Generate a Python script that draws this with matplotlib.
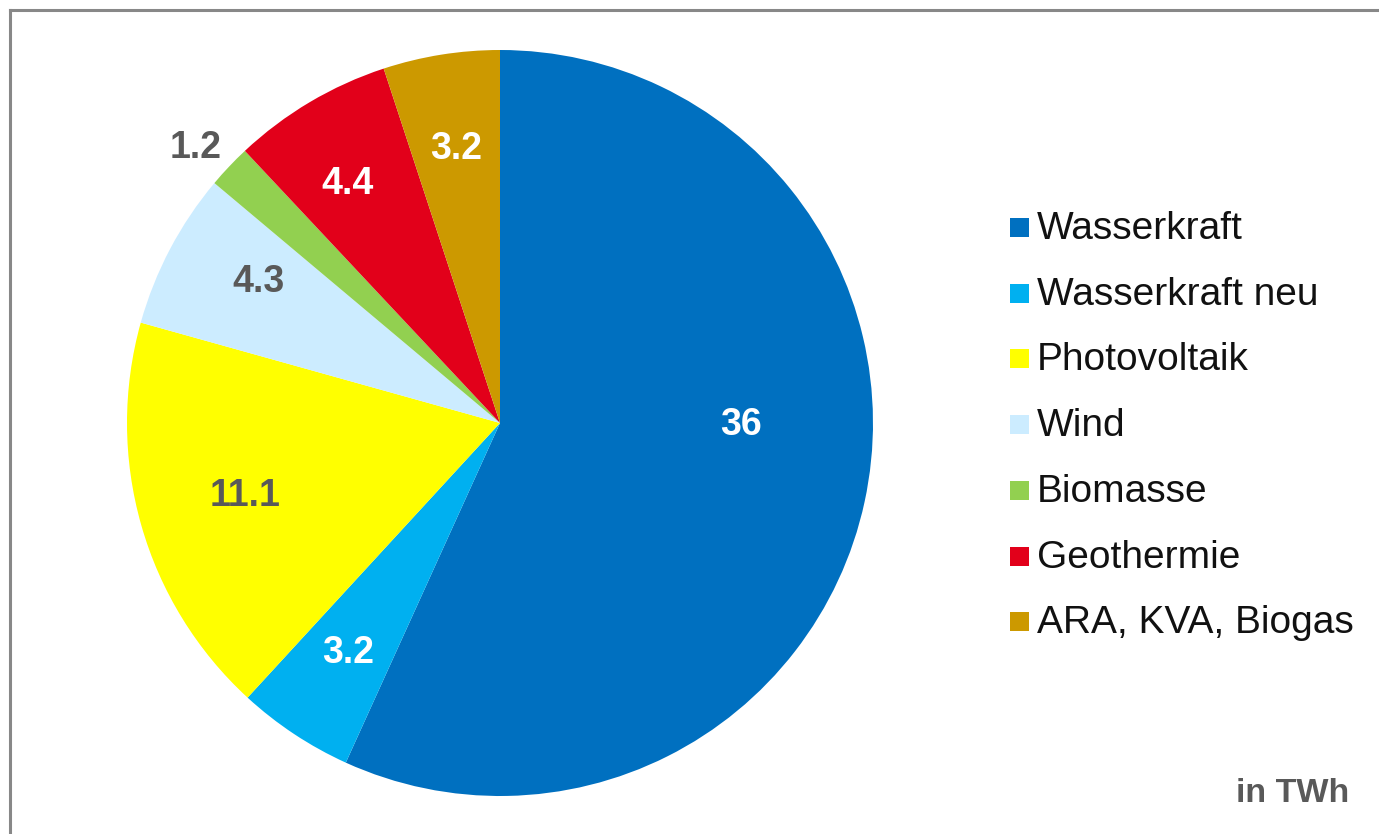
import numpy as np
import matplotlib
matplotlib.use('Agg')
import matplotlib.pyplot as plt
from matplotlib.patches import Rectangle
from matplotlib.lines import Line2D

# data (TWh)
names = ['Wasserkraft', 'Wasserkraft neu', 'Photovoltaik', 'Wind',
         'Biomasse', 'Geothermie', 'ARA, KVA, Biogas']
values = [36, 3.2, 11.1, 4.3, 1.2, 4.4, 3.2]
labels = ['36', '3.2', '11.1', '4.3', '1.2', '4.4', '3.2']
colors = ['#0070C0', '#00B0F0', '#FFFF00', '#CCECFF', '#92D050', '#E2001A', '#CC9900']
label_colors = ['white', 'white', '#595959', '#595959', '#595959', 'white', 'white']
# label placement (radius as fraction of pie radius, angle shift in degrees)
label_r = [0.645, 0.74, 0.71, 0.75, 1.10, 0.76, 0.745]
label_shift = [11.7, 0, 0, -2.5, 1.3, 1.9, 0]

W, H = 1379, 834
fig = plt.figure(figsize=(W / 100, H / 100), dpi=100)

# pie axes: center (500, 423) px, radius ~373 px
cx, cy, r = 500, 423, 373
ax = fig.add_axes([(cx - r) / W, (H - cy - r) / H, 2 * r / W, 2 * r / H])
wedges, _ = ax.pie(values, colors=colors, startangle=90, counterclock=False,
                   radius=1, wedgeprops=dict(linewidth=0))
ax.set_xlim(-1, 1)
ax.set_ylim(-1, 1)
ax.set_aspect('equal')
ax.axis('off')

for w, lab, lc, lr, sh in zip(wedges, labels, label_colors, label_r, label_shift):
    ang = np.deg2rad((w.theta1 + w.theta2) / 2 + sh)
    ax.text(lr * np.cos(ang), lr * np.sin(ang), lab, ha='center', va='center',
            fontsize=27, fontweight='bold', color=lc, family='Liberation Sans')

# legend drawn by hand
y0, dy = 227, 65.7
for i, (n, c) in enumerate(zip(names, colors)):
    y = y0 + i * dy
    fig.add_artist(Rectangle((1010 / W, (H - y - 10) / H), 19 / W, 19 / H,
                             transform=fig.transFigure, facecolor=c, edgecolor='none'))
    fig.text(1037 / W, (H - y - 2) / H, n, ha='left', va='center', fontsize=28,
             color='#111111', family='Liberation Sans')

fig.text(1349 / W, (H - 794) / H, 'in TWh', ha='right', va='center', fontsize=24.5,
         fontweight='bold', color='#595959', family='Liberation Sans')

# frame (only top and left visible)
fig.add_artist(Line2D([9.5 / W, 9.5 / W], [0, (H - 9.5) / H], transform=fig.transFigure,
                      color='#888888', linewidth=2.2))
fig.add_artist(Line2D([9.5 / W, 1], [(H - 9.5) / H, (H - 9.5) / H], transform=fig.transFigure,
                      color='#888888', linewidth=2.2))

fig.savefig('out.png', dpi=100)
